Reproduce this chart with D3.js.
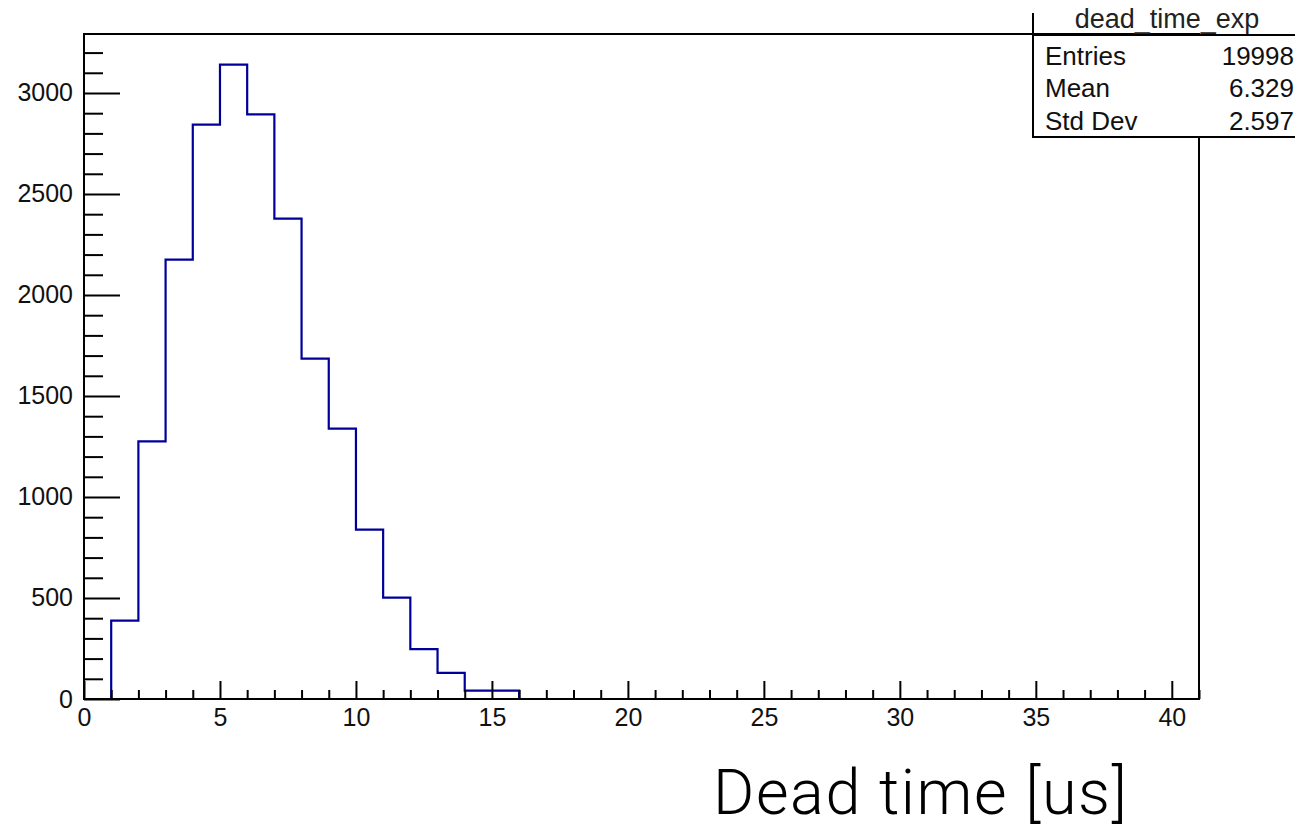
<!DOCTYPE html>
<html>
<head>
<meta charset="utf-8">
<script src="https://cdn.jsdelivr.net/npm/d3@7"></script>
<style>
  html, body { margin: 0; padding: 0; background: #fff; }
  svg { display: block; }
</style>
</head>
<body>
<svg id="chart" width="1295" height="831"></svg>
<script>
// ---- data ----
const histTitle = "dead_time_exp";
const xMin = 0, xMax = 41;
const binWidth = 1;
const counts = [0, 388, 1275, 2175, 2843, 3140, 2894, 2378, 1685, 1338, 838, 502, 247, 129, 41, 41,
  0, 0, 0, 0, 0, 0, 0, 0, 0, 0, 0, 0, 0, 0, 0, 0, 0, 0, 0, 0, 0, 0, 0, 0, 0];
const yMax = 3292;
const xMajorTicks = [0, 5, 10, 15, 20, 25, 30, 35, 40];
const yMajorTicks = [0, 500, 1000, 1500, 2000, 2500, 3000];
const statNames = ["Entries", "Mean", "Std Dev"];
const statValues = ["19998", "6.329", "2.597"];
const xTitle = "Dead time [us]";

// ---- layout ----
const svg = d3.select("#chart");
const L = 84, R = 1199, T = 34, B = 699;
const x = d3.scaleLinear().domain([xMin, xMax]).range([L, R]);
const y = d3.scaleLinear().domain([0, yMax]).range([B, T]);
const axisFont = "'Liberation Sans', Arial, Helvetica, sans-serif";

// histogram outline
const pts = [];
counts.forEach((c, i) => {
  const lo = xMin + i * binWidth;
  pts.push([lo, c], [lo + binWidth, c]);
});
svg.append("path")
  .attr("d", d3.line().x(d => x(d[0])).y(d => y(d[1]))(pts))
  .attr("fill", "none")
  .attr("stroke", "#000099")
  .attr("stroke-width", 2.2)
  .attr("stroke-linejoin", "miter");

// x axis (ticks upward)
const xMinor = d3.range(xMin, xMax + 0.001, 1).filter(v => v % 5 !== 0);
svg.append("g").attr("transform", `translate(0,${B})`)
  .call(d3.axisBottom(x).tickValues(xMinor).tickSize(-9).tickFormat(""))
  .call(g => g.select(".domain").remove());
const gx = svg.append("g").attr("transform", `translate(0,${B})`)
  .call(d3.axisBottom(x).tickValues(xMajorTicks).tickSize(-18).tickPadding(9).tickFormat(d3.format("d")))
  .call(g => g.select(".domain").remove());
gx.selectAll("text").attr("font-family", axisFont).attr("font-size", 25).attr("fill", "#111");

// y axis (ticks rightward)
const yMinor = d3.range(0, yMax, 100).filter(v => v % 500 !== 0);
svg.append("g").attr("transform", `translate(${L},0)`)
  .call(d3.axisLeft(y).tickValues(yMinor).tickSize(-19).tickFormat(""))
  .call(g => g.select(".domain").remove());
const gy = svg.append("g").attr("transform", `translate(${L},0)`)
  .call(d3.axisLeft(y).tickValues(yMajorTicks).tickSize(-36).tickPadding(11).tickFormat(d3.format("d")))
  .call(g => g.select(".domain").remove());
gy.selectAll("text").attr("font-family", axisFont).attr("font-size", 25).attr("fill", "#111");

svg.selectAll(".tick line").attr("stroke", "#000").attr("stroke-width", 2);

// frame
svg.append("rect")
  .attr("x", L).attr("y", T).attr("width", R - L).attr("height", B - T)
  .attr("fill", "none").attr("stroke", "#000").attr("stroke-width", 2);

// stats box
const bx = 1033, bTop = 13, bSep = 35, bBot = 137, bRight = 1300;
svg.append("rect").attr("x", bx).attr("y", bSep).attr("width", bRight - bx).attr("height", bBot - bSep)
  .attr("fill", "#fff").attr("stroke", "#000").attr("stroke-width", 2);
svg.append("line").attr("x1", bx).attr("x2", bx).attr("y1", bTop).attr("y2", bSep)
  .attr("stroke", "#000").attr("stroke-width", 2);
svg.append("text").attr("x", 1167).attr("y", 28).attr("text-anchor", "middle")
  .attr("font-family", axisFont).attr("font-size", 27).attr("fill", "#222").text(histTitle);
const rowY = [65, 97, 130];
statNames.forEach((n, i) => {
  svg.append("text").attr("x", 1045).attr("y", rowY[i])
    .attr("font-family", axisFont).attr("font-size", 26).attr("fill", "#111").text(n);
  svg.append("text").attr("x", 1294).attr("y", rowY[i]).attr("text-anchor", "end")
    .attr("font-family", axisFont).attr("font-size", 26).attr("fill", "#111").text(statValues[i]);
});

// axis title
svg.append("text").attr("x", 713).attr("y", 814)
  .attr("font-family", "Roboto, Lato, 'Open Sans', sans-serif").attr("font-weight", 300)
  .attr("font-size", 63).attr("letter-spacing", 1.6).attr("fill", "#000").text(xTitle);
</script>
</body>
</html>
